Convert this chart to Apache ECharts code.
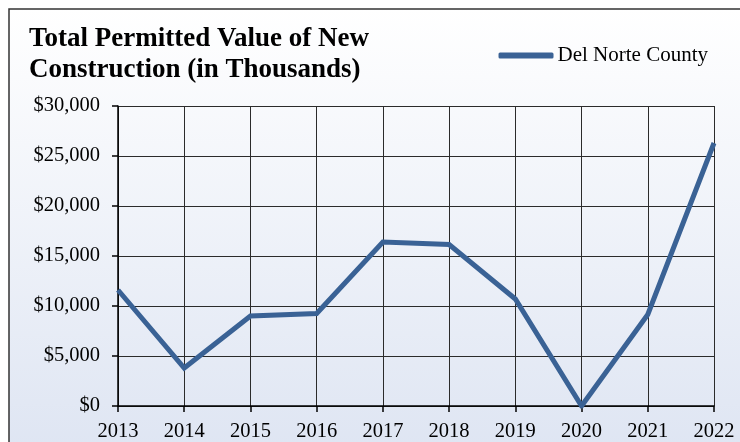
<!DOCTYPE html>
<html>
<head>
<meta charset="utf-8">
<script src="https://cdn.jsdelivr.net/npm/echarts@6/dist/echarts.min.js"></script>
<style>
  html, body { margin: 0; padding: 0; background: #ffffff; }
  #chart { width: 740px; height: 442px; }
</style>
</head>
<body>
<div id="chart"></div>
<script>
// Permit years on the x axis
const years = ['2013', '2014', '2015', '2016', '2017', '2018', '2019', '2020', '2021', '2022'];
// Total permitted value of new construction, thousands of dollars
const delNorteValues = [11600, 3800, 9000, 9250, 16400, 16150, 10700, 0, 9150, 26300];
const seriesName = 'Del Norte County';
const titleLines = ['Total Permitted Value of New', 'Construction (in Thousands)'];

const serif = '"Liberation Serif", "Times New Roman", serif';
const lineBlue = '#3a6295';
const gridInk = '#2b2b2b';

const chart = echarts.init(document.getElementById('chart'));

chart.setOption({
  animation: false,
  backgroundColor: '#ffffff',
  graphic: [
    {
      type: 'rect',
      z: -100,
      shape: { x: 9, y: 9, width: 760, height: 460 },
      style: {
        fill: new echarts.graphic.LinearGradient(0, 0, 0, 1, [
          { offset: 0, color: '#ffffff' },
          { offset: 1, color: '#dde4f2' }
        ]),
        stroke: '#333333',
        lineWidth: 1.5
      }
    },
    {
      type: 'text',
      left: 29,
      top: 24,
      style: {
        text: titleLines.join('\n'),
        font: 'bold 27px ' + serif,
        fill: '#000000',
        lineHeight: 31
      }
    }
  ],
  legend: {
    data: [seriesName],
    right: 27,
    top: 40,
    itemWidth: 55,
    itemHeight: 6,
    itemGap: 4,
    icon: 'roundRect',
    textStyle: { fontFamily: serif, fontSize: 21, color: '#000000', padding: [0, 0, 0, -1] }
  },
  grid: { left: 118, right: 26, top: 106, bottom: 36 },
  xAxis: {
    type: 'category',
    data: years,
    boundaryGap: false,
    axisLine: { show: true, lineStyle: { color: '#000000', width: 1.5 } },
    axisTick: { show: true, alignWithLabel: true, length: 6, lineStyle: { color: '#000000', width: 1.5 } },
    axisLabel: { fontFamily: serif, fontSize: 20.5, color: '#000000', margin: 15 },
    splitLine: { show: true, lineStyle: { color: gridInk, width: 1 } }
  },
  yAxis: {
    type: 'value',
    min: 0,
    max: 30000,
    interval: 5000,
    axisLine: { show: true, lineStyle: { color: '#000000', width: 1.5 } },
    axisTick: { show: true, length: 6, lineStyle: { color: '#000000', width: 1.5 } },
    axisLabel: {
      fontFamily: serif,
      fontSize: 20.5,
      color: '#000000',
      margin: 18,
      formatter: v => '$' + v.toLocaleString('en-US')
    },
    splitLine: { show: true, lineStyle: { color: gridInk, width: 1 } }
  },
  series: [
    {
      name: seriesName,
      type: 'line',
      data: delNorteValues,
      symbol: 'none',
      color: lineBlue,
      lineStyle: { color: lineBlue, width: 5, join: 'miter' }
    }
  ]
});
</script>
</body>
</html>
